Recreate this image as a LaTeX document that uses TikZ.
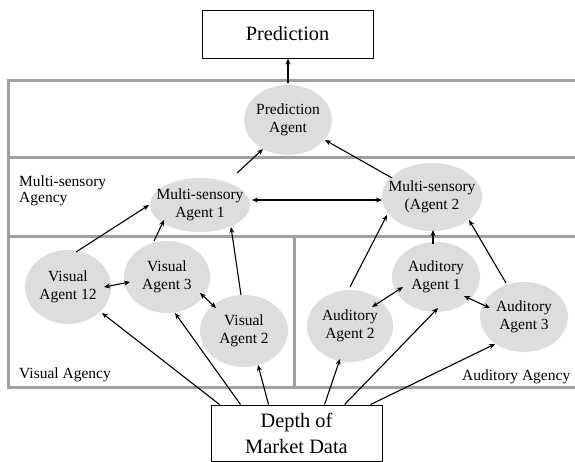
\documentclass[tikz,border=0pt]{standalone}
\usepackage{fontspec}
\setmainfont{Liberation Serif}
\usetikzlibrary{arrows.meta,calc,shapes.geometric}
\definecolor{framegray}{RGB}{160,160,160}
\definecolor{agentgray}{RGB}{221,221,221}
\begin{document}
\begin{tikzpicture}[x=1pt,y=-1pt,
  frame/.style={draw=framegray,line width=3pt},
  agent/.style={ellipse,fill=agentgray,inner sep=0pt},
  agenttext/.style={font=\fontsize{15.5}{17.5}\selectfont,align=center,inner sep=0pt},
  labeltext/.style={font=\fontsize{15.5}{15.5}\selectfont,align=left,inner sep=0pt},
  box/.style={draw,line width=0.9pt,fill=white,inner sep=0pt,align=center},
  tip/.tip={Stealth[length=6pt,width=5pt]},
  conn/.style={line width=1.1pt,-tip},
  both/.style={line width=1.1pt,tip-tip},
]
\useasboundingbox (0,0) rectangle (575,462);
% agency frames
\draw[frame] (575,81) -- (8,81) -- (8,387) -- (575,387);
\draw[frame] (8,158) -- (575,158);
\draw[frame] (8,237) -- (575,237);
\draw[frame] (294,237) -- (294,387);
% agency labels
\node[labeltext,anchor=north west] (lms) at (19,176) {Multi-sensory\\Agency};
\node[labeltext,anchor=base west] (lva) at (19,378) {Visual Agency};
\node[labeltext,anchor=base west] (laa) at (462,380) {Auditory Agency};
% boxes
\node[box,minimum width=171pt,minimum height=48pt,font=\fontsize{20.3}{24}\selectfont] (pred) at (287.5,34) {Prediction};
\node[box,minimum width=171pt,minimum height=56pt,font=\fontsize{20.4}{26}\selectfont] (dm) at (296.5,433) {Depth of\\Market Data};
% agents
\node[agent,minimum width=88pt,minimum height=70pt] (pa) at (288,120) {};
\node[agent,minimum width=100pt,minimum height=54pt] (ma1) at (200,205) {};
\node[agent,minimum width=100pt,minimum height=68pt] (ma2) at (432,197) {};
\node[agent,minimum width=86pt,minimum height=74pt] (va12) at (68,287) {};
\node[agent,minimum width=86pt,minimum height=72pt] (va3) at (167,277) {};
\node[agent,minimum width=88pt,minimum height=72pt] (va2) at (244,331) {};
\node[agent,minimum width=88pt,minimum height=70pt] (aa1) at (436,277) {};
\node[agent,minimum width=86pt,minimum height=72pt] (aa2) at (350,326) {};
\node[agent,minimum width=88pt,minimum height=70pt] (aa3) at (524,317) {};
\node[agenttext] (pat) at (pa) {Prediction\\Agent};
\node[agenttext] (ma1t) at (ma1) {Multi-sensory\\Agent 1};
\node[agenttext] (ma2t) at (ma2) {Multi-sensory\\(Agent 2};
\node[agenttext] (va12t) at (va12) {Visual\\Agent 12};
\node[agenttext] (va3t) at (va3) {Visual\\Agent 3};
\node[agenttext] (va2t) at (va2) {Visual\\Agent 2};
\node[agenttext] (aa1t) at (aa1) {Auditory\\Agent 1};
\node[agenttext] (aa2t) at (aa2) {Auditory\\Agent 2};
\node[agenttext] (aa3t) at (aa3) {Auditory\\Agent 3};
% connectors
\draw[conn] ($(pa.north)+(0,-2)$) -- (pa.north |- pred.south);
\draw[conn] ($(ma1)+(37,-32)$) -- ($(pa)+(-25,29)$);
\draw[conn] ($(ma2)+(-40,-19)$) -- ($(pa)+(37,20)$);
\draw[both] ($(ma1)+(52,-5)$) -- ($(ma2)+(-50,3)$);
\draw[conn] ($(va12)+(8,-35)$) -- ($(ma1)+(-51,0)$);
\draw[conn] ($(va3)+(-13,-36)$) -- ($(ma1)+(-36,15)$);
\draw[conn] ($(va2)+(-3,-36)$) -- ($(ma1)+(31,22)$);
\draw[both] ($(va12)+(36,0)$) -- ($(va3)+(-37,5)$);
\draw[both] ($(va3)+(33,16)$) -- ($(va2)+(-28,-23)$);
\draw[conn] ($(aa2)+(0,-39)$) -- ($(ma2)+(-45,18)$);
\draw[conn] ($(aa1)+(-3,-33)$) -- ($(ma2)+(1,33)$);
\draw[conn] ($(aa3)+(-18,-34)$) -- ($(ma2)+(37,23)$);
\draw[both] ($(aa2)+(22,-19)$) -- ($(aa1)+(-33,10)$);
\draw[both] ($(aa1)+(28,19)$) -- ($(aa3)+(-34,-9)$);
\draw[conn] ($(dm.north west)+(9,0)$) -- ($(va12)+(34,26)$);
\draw[conn] ($(dm.north west)+(30,0)$) -- ($(va3)+(8,36)$);
\draw[conn] ($(dm.north west)+(58,0)$) -- ($(va2)+(14,34)$);
\draw[conn] ($(dm.north west)+(114,0)$) -- ($(aa2)+(-10,33)$);
\draw[conn] ($(dm.north west)+(134,0)$) -- ($(aa1)+(2,31)$);
\draw[conn] ($(dm.north west)+(160,0)$) -- ($(aa3)+(-29,27)$);
\end{tikzpicture}
\end{document}
